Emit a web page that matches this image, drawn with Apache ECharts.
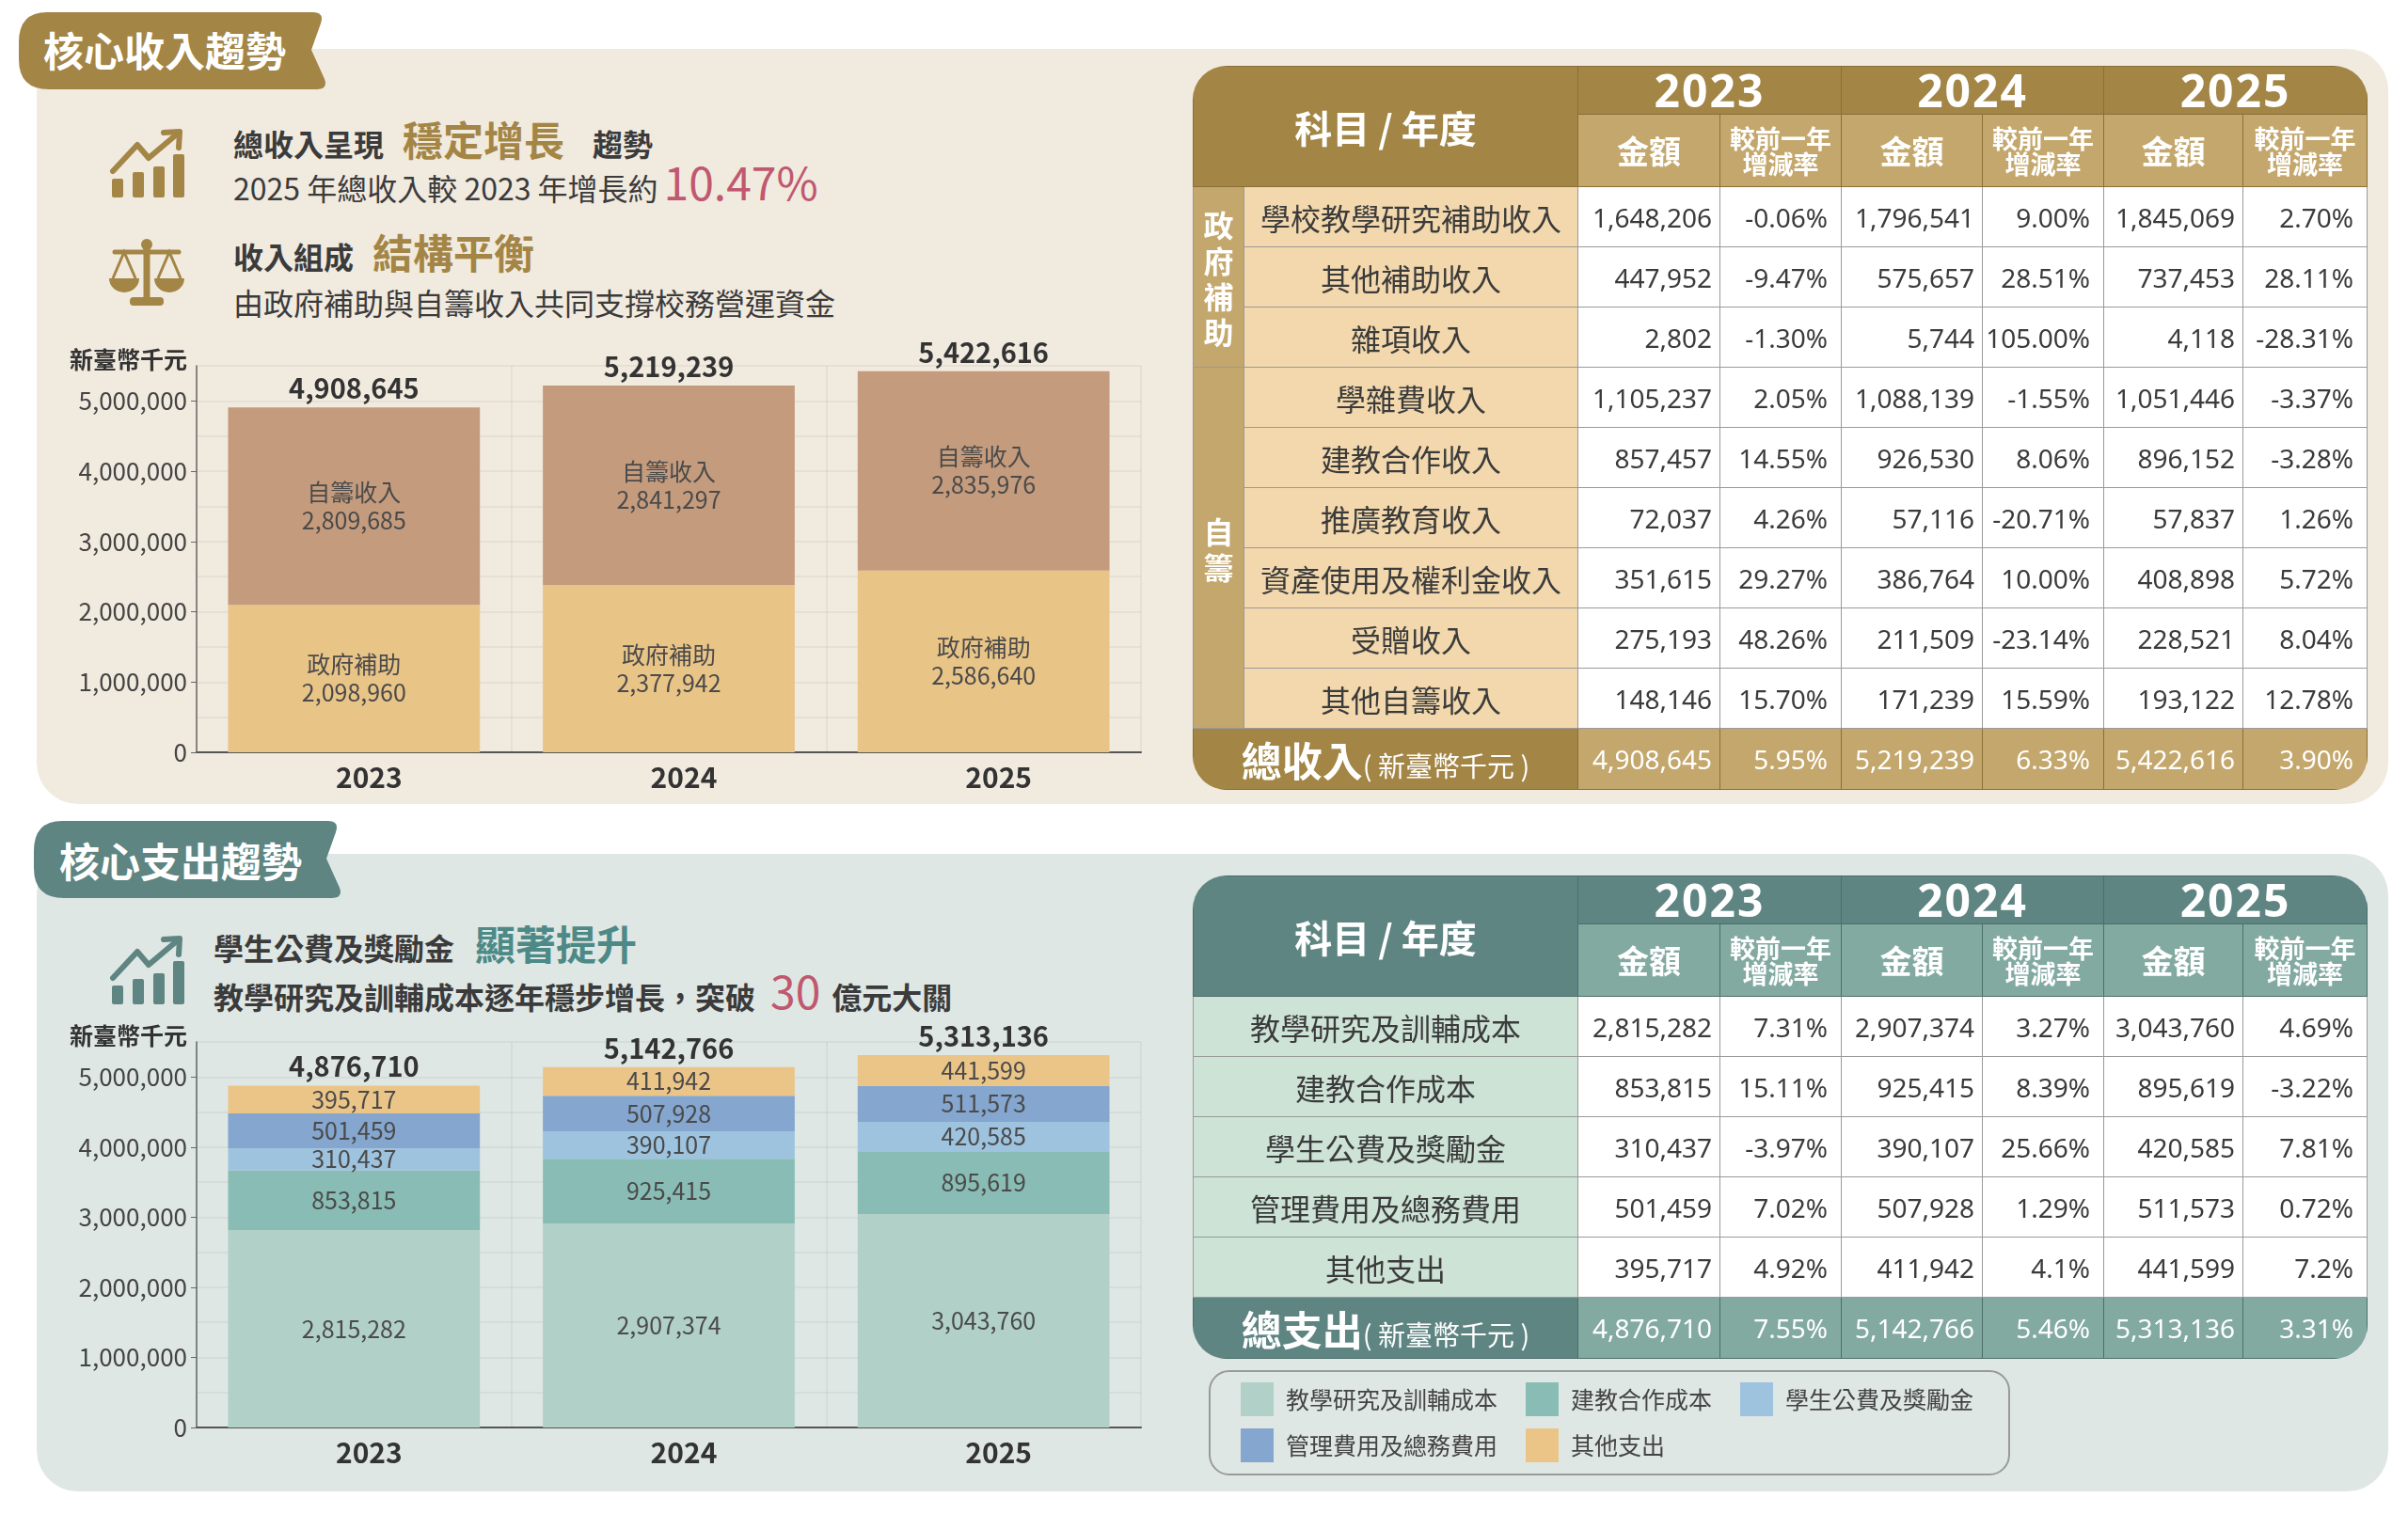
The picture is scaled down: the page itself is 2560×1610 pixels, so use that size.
<!DOCTYPE html>
<html lang="zh-Hant">
<head>
<meta charset="utf-8">
<title>核心收入與支出趨勢</title>
<script src="https://cdn.jsdelivr.net/npm/echarts@6.0.0/dist/echarts.min.js"></script>
<style>
body { margin:0; width:2560px; height:1610px; background:#fff; position:relative; overflow:hidden;
       font-family:"Noto Sans CJK TC", "Noto Sans", sans-serif; color:#3b3b3b; }
.abs { position:absolute; }
.row { position:absolute; display:flex; align-items:baseline; white-space:nowrap; line-height:1; }
.b { font-weight:bold; }
.tab { position:absolute; color:#fff; font-weight:bold; font-size:43px; line-height:1; }
#chart { position:absolute; left:0; top:0; width:2560px; height:1610px; z-index:2; }
.twrap { position:absolute; left:1268px; border-radius:36px; overflow:hidden; z-index:3; }
.tbl { border-collapse:collapse; table-layout:fixed; width:1248px; }
.tbl th, .tbl td { padding:0; line-height:1; }
.tbl th { color:#fff; font-weight:bold; }
.tbl .yr { font-family:"Noto Sans", sans-serif; font-size:48px; letter-spacing:2px; }
.tbl .corner { font-size:40px; }
.tbl .amt { font-size:34px; }
.tbl .rh { font-size:27px; line-height:27px; }
.tbl td.num { text-align:right; padding-right:8px; background:#fff; border:1.5px solid #9a9a9a;
              font-family:"Noto Sans", sans-serif; font-size:28px; color:#3b3b3b; }
.tbl td.rt { padding-right:14px; }
.tbl td.lab { text-align:center; font-size:32px; border:1.5px solid #9a9a9a; color:#3b3b3b; }
.tbl td.grp { text-align:center; color:#fff; font-weight:bold; font-size:32px; line-height:38px; }
.tbl tr.h1 { height:51px; }
.tbl tr.h2 { height:77px; }
.tbl tr.d { height:64px; }
.tbl tr.f { height:65px; }
.tbl tr.f td { color:#fff; font-family:"Noto Sans", sans-serif; font-size:28px; text-align:right; padding-right:8px; }
.tbl tr.f td.rt { padding-right:14px; }
.tbl tr.f td.ft { font-family:"Noto Sans CJK TC", sans-serif; text-align:center; font-weight:bold; font-size:43px; padding:0; }
.tbl tr.f td.ft small { font-size:29px; font-weight:normal; }
.inc th { background:#A38545; border:1px solid #8a6f38; }
.inc tr.h2 th { background:#C4A76C; }
.inc td.lab { background:#F2D8AC; }
.inc td.grp { background:#C4A76C; border:1px solid #9a9a9a; }
.inc tr.f td { background:#C4A76C; border:1px solid #8a6f38; }
.inc tr.f td.ft { background:#A38545; }
.exp th { background:#5E8582; border:1px solid #4d6e6b; }
.exp tr.h2 th { background:#82AAA1; }
.exp td.lab { background:#CDE3D6; }
.exp tr.f td { background:#82AAA1; border:1px solid #4d6e6b; }
.exp tr.f td.ft { background:#5E8582; }
#legendBox { position:absolute; left:1285px; top:1457px; width:848px; height:108px;
             border:2px solid #9a9a9a; border-radius:22px; z-index:1; }
</style>
</head>
<body>

<svg class="abs" style="left:0;top:0;z-index:0" width="2560" height="1610">
  <rect x="39" y="52" width="2500" height="803" rx="44" fill="#F1EADF"/>
  <rect x="39" y="908" width="2500" height="678" rx="44" fill="#DFE7E4"/>
  <path d="M50,13 H333 Q345,13 341,25 L331,53 L345,84 Q349,95 337,95 H52 Q20,95 20,63 V45 Q20,13 50,13 Z" fill="#A38545"/>
  <path d="M66,873 H349 Q361,873 357,885 L347,913 L361,944 Q365,955 353,955 H68 Q36,955 36,923 V905 Q36,873 66,873 Z" fill="#5E8582"/>
</svg>

<div class="tab" style="left:46px;top:31px;z-index:1">核心收入趨勢</div>
<div class="tab" style="left:63px;top:893px;z-index:1">核心支出趨勢</div>

<!-- income icons -->
<svg class="abs" style="left:114px;top:136px" width="84" height="78" viewBox="0 0 84 78">
  <g fill="#A38545">
    <rect x="5" y="54" width="12" height="20" rx="2"/>
    <rect x="27" y="47" width="12" height="27" rx="2"/>
    <rect x="49" y="41" width="12" height="33" rx="2"/>
    <rect x="70" y="28" width="12" height="46" rx="2"/>
  </g>
  <polyline points="6,46 32,18 44,32 76,5" fill="none" stroke="#A38545" stroke-width="6" stroke-linejoin="round" stroke-linecap="round"/>
  <polyline points="60,5 77,4 76,21" fill="none" stroke="#A38545" stroke-width="6" stroke-linejoin="round" stroke-linecap="round"/>
</svg>
<svg class="abs" style="left:114px;top:252px" width="84" height="78" viewBox="0 0 84 78">
  <g fill="#A38545" stroke="#A38545">
    <circle cx="42" cy="8" r="6" stroke="none"/>
    <line x1="8" y1="16" x2="76" y2="16" stroke-width="5" stroke-linecap="round"/>
    <line x1="42" y1="10" x2="42" y2="66" stroke-width="7"/>
    <polyline points="6,44 18,16 30,44" fill="none" stroke-width="3"/>
    <polyline points="54,44 66,16 78,44" fill="none" stroke-width="3"/>
    <path d="M2,44 H34 A16,15 0 0 1 2,44 Z" stroke="none"/>
    <path d="M50,44 H82 A16,15 0 0 1 50,44 Z" stroke="none"/>
    <rect x="24" y="64" width="36" height="9" rx="4" stroke="none"/>
  </g>
</svg>
<!-- expense icon -->
<svg class="abs" style="left:114px;top:994px" width="84" height="78" viewBox="0 0 84 78">
  <g fill="#5E8582">
    <rect x="5" y="54" width="12" height="20" rx="2"/>
    <rect x="27" y="47" width="12" height="27" rx="2"/>
    <rect x="49" y="41" width="12" height="33" rx="2"/>
    <rect x="70" y="28" width="12" height="46" rx="2"/>
  </g>
  <polyline points="6,46 32,18 44,32 76,5" fill="none" stroke="#5E8582" stroke-width="6" stroke-linejoin="round" stroke-linecap="round"/>
  <polyline points="60,5 77,4 76,21" fill="none" stroke="#5E8582" stroke-width="6" stroke-linejoin="round" stroke-linecap="round"/>
</svg>

<!-- income headline texts -->
<div class="row b" style="left:248px;top:126px;font-size:32px">
  <span>總收入呈現</span>
  <span style="font-size:43px;color:#A38545;margin:0 30px 0 20px">穩定增長</span>
  <span>趨勢</span>
</div>
<div class="row" style="left:248px;top:168px;font-size:32px">
  <span>2025 年總收入較 2023 年增長約</span>
  <span style="font-size:48px;color:#C0586F;margin-left:6px">10.47%</span>
</div>
<div class="row b" style="left:248px;top:246px;font-size:32px">
  <span>收入組成</span>
  <span style="font-size:43px;color:#A38545;margin-left:20px">結構平衡</span>
</div>
<div class="row" style="left:248px;top:305px;font-size:32px">
  <span>由政府補助與自籌收入共同支撐校務營運資金</span>
</div>

<!-- expense headline texts -->
<div class="row b" style="left:227px;top:981px;font-size:32px">
  <span>學生公費及獎勵金</span>
  <span style="font-size:43px;color:#4D8A87;margin-left:22px">顯著提升</span>
</div>
<div class="row b" style="left:227px;top:1028px;font-size:32px">
  <span>教學研究及訓輔成本逐年穩步增長，突破</span>
  <span style="font-size:48px;color:#C0586F;font-weight:normal;margin:0 12px 0 16px">30</span>
  <span>億元大關</span>
</div>

<div id="legendBox"></div>
<div id="chart"></div>

<div class="twrap" id="incWrap" style="top:70px"></div>
<div class="twrap" id="expWrap" style="top:931px"></div>

<script>
// ---- chart data ----
var years = ['2023', '2024', '2025'];
var govIncome = [2098960, 2377942, 2586640];
var selfIncome = [2809685, 2841297, 2835976];

var teachCost = [2815282, 2907374, 3043760];
var coopCost = [853815, 925415, 895619];
var aidCost = [310437, 390107, 420585];
var adminCost = [501459, 507928, 511573];
var otherCost = [395717, 411942, 441599];
var costNames = ['教學研究及訓輔成本', '建教合作成本', '學生公費及獎勵金', '管理費用及總務費用', '其他支出'];
var costColors = ['#B1D0C7', '#88BCB4', '#9DC3DF', '#84A6CF', '#EBC588'];

// ---- table data ----
var incomeItems = ['學校教學研究補助收入', '其他補助收入', '雜項收入', '學雜費收入', '建教合作收入',
                   '推廣教育收入', '資產使用及權利金收入', '受贈收入', '其他自籌收入'];
var incomeGroups = [['政', '府', '補', '助'], ['自', '籌']];
var incomeGroupRows = [3, 6];
var incomeAmounts = [
    [1648206, 1796541, 1845069],
    [447952, 575657, 737453],
    [2802, 5744, 4118],
    [1105237, 1088139, 1051446],
    [857457, 926530, 896152],
    [72037, 57116, 57837],
    [351615, 386764, 408898],
    [275193, 211509, 228521],
    [148146, 171239, 193122]
];
var incomeRates = [
    ['-0.06%', '9.00%', '2.70%'],
    ['-9.47%', '28.51%', '28.11%'],
    ['-1.30%', '105.00%', '-28.31%'],
    ['2.05%', '-1.55%', '-3.37%'],
    ['14.55%', '8.06%', '-3.28%'],
    ['4.26%', '-20.71%', '1.26%'],
    ['29.27%', '10.00%', '5.72%'],
    ['48.26%', '-23.14%', '8.04%'],
    ['15.70%', '15.59%', '12.78%']
];
var incomeTotalRates = ['5.95%', '6.33%', '3.90%'];
var costRates = [
    ['7.31%', '3.27%', '4.69%'],
    ['15.11%', '8.39%', '-3.22%'],
    ['-3.97%', '25.66%', '7.81%'],
    ['7.02%', '1.29%', '0.72%'],
    ['4.92%', '4.1%', '7.2%']
];
var costTotalRates = ['7.55%', '5.46%', '3.31%'];

function fmt(v) { return Number(v).toLocaleString('en-US'); }

var costSeriesData = [teachCost, coopCost, aidCost, adminCost, otherCost];
var incomeTotal = years.map(function (y, i) { return govIncome[i] + selfIncome[i]; });
var costTotal = years.map(function (y, i) {
    return costSeriesData.reduce(function (s, arr) { return s + arr[i]; }, 0);
});

// ---- tables ----
function headRows() {
    var h = '<colgroup><col style="width:54px"><col style="width:355px">' +
            '<col style="width:151px"><col style="width:129px"><col style="width:150px">' +
            '<col style="width:129px"><col style="width:148px"><col style="width:132px"></colgroup>';
    h += '<tr class="h1"><th colspan="2" rowspan="2" class="corner">科目 / 年度</th>';
    years.forEach(function (y) { h += '<th colspan="2" class="yr">' + y + '</th>'; });
    h += '</tr><tr class="h2">';
    years.forEach(function () { h += '<th class="amt">金額</th><th class="rh">較前一年<br>增減率</th>'; });
    return h + '</tr>';
}
function valueCells(amounts, rates) {
    var h = '';
    for (var i = 0; i < years.length; i++) {
        h += '<td class="num">' + fmt(amounts[i]) + '</td><td class="num rt">' + rates[i] + '</td>';
    }
    return h;
}
function footRow(title, totals, rates) {
    var h = '<tr class="f"><td colspan="2" class="ft">' + title + '<small>( 新臺幣千元 )</small></td>';
    for (var i = 0; i < years.length; i++) {
        h += '<td>' + fmt(totals[i]) + '</td><td class="rt">' + rates[i] + '</td>';
    }
    return h + '</tr>';
}

var inc = '<table class="tbl inc">' + headRows();
incomeItems.forEach(function (name, r) {
    inc += '<tr class="d">';
    incomeGroupRows.forEach(function (n, g) {
        var start = incomeGroupRows.slice(0, g).reduce(function (a, b) { return a + b; }, 0);
        if (r === start) inc += '<td class="grp" rowspan="' + n + '">' + incomeGroups[g].join('<br>') + '</td>';
    });
    inc += '<td class="lab">' + name + '</td>' + valueCells(incomeAmounts[r], incomeRates[r]) + '</tr>';
});
inc += footRow('總收入', incomeTotal, incomeTotalRates) + '</table>';
document.getElementById('incWrap').innerHTML = inc;

var exp = '<table class="tbl exp">' + headRows();
costNames.forEach(function (name, r) {
    exp += '<tr class="d"><td class="lab" colspan="2">' + name + '</td>' +
           valueCells(costSeriesData[r], costRates[r]) + '</tr>';
});
exp += footRow('總支出', costTotal, costTotalRates) + '</table>';
document.getElementById('expWrap').innerHTML = exp;

// ---- chart ----
var chart = echarts.init(document.getElementById('chart'));

function xAxisFor(gi) {
    return {
        type: 'category', gridIndex: gi, data: years,
        axisLine: { lineStyle: { color: '#555', width: 2 } },
        axisTick: { show: false },
        axisLabel: { fontSize: 30, fontWeight: 'bold', color: '#333', margin: 12, padding: [0, 0, 0, 32] },
        splitLine: { show: true, lineStyle: { color: 'rgba(0,0,0,0.06)', width: 1.5 } }
    };
}
function yAxisFor(gi) {
    return {
        type: 'value', gridIndex: gi, min: 0, max: 5500000, interval: 1000000,
        name: '新臺幣千元', nameLocation: 'end', nameGap: 7,
        nameTextStyle: { fontSize: 25, fontWeight: 'bold', color: '#333', align: 'right',
                         verticalAlign: 'middle', padding: [0, 10, 0, 0] },
        axisLine: { show: true, lineStyle: { color: '#666', width: 1.5 } },
        axisTick: { show: true, length: 6, lineStyle: { color: '#666' } },
        axisLabel: { formatter: fmt, showMaxLabel: false, fontSize: 26, color: '#444', margin: 10 },
        splitLine: { lineStyle: { color: 'rgba(0,0,0,0.06)', width: 1.5 } },
        minorTick: { show: false, splitNumber: 2 },
        minorSplitLine: { show: true, lineStyle: { color: 'rgba(0,0,0,0.06)', width: 1.5 } }
    };
}
function totalSeries(gi, data) {
    return {
        name: gi === 0 ? '總收入' : '總支出', type: 'line', xAxisIndex: gi, yAxisIndex: gi,
        data: data, symbol: 'circle', symbolSize: 1, silent: true, z: 10,
        itemStyle: { color: 'transparent' }, lineStyle: { opacity: 0 },
        label: { show: true, position: 'top', distance: 5, formatter: function (p) { return fmt(p.value); },
                 fontSize: 29, fontWeight: 'bold', color: '#333' }
    };
}

var series = [
    {
        name: '政府補助', type: 'bar', stack: 'income', xAxisIndex: 0, yAxisIndex: 0,
        barWidth: '80%', data: govIncome, itemStyle: { color: '#E9C487' },
        label: { show: true, position: 'inside', fontSize: 25, lineHeight: 30, color: '#4a4a4a',
                 formatter: function (p) { return p.seriesName + '\n' + fmt(p.value); } }
    },
    {
        name: '自籌收入', type: 'bar', stack: 'income', xAxisIndex: 0, yAxisIndex: 0,
        barWidth: '80%', data: selfIncome, itemStyle: { color: '#C49B7D' },
        label: { show: true, position: 'inside', fontSize: 25, lineHeight: 30, color: '#4a4a4a',
                 formatter: function (p) { return p.seriesName + '\n' + fmt(p.value); } }
    },
    totalSeries(0, incomeTotal)
];
costNames.forEach(function (name, k) {
    series.push({
        name: name, type: 'bar', stack: 'cost', xAxisIndex: 1, yAxisIndex: 1,
        barWidth: '80%', data: costSeriesData[k], itemStyle: { color: costColors[k] },
        label: { show: true, position: 'inside', fontSize: 25, color: '#4a4a4a',
                 formatter: function (p) { return fmt(p.value); } }
    });
});
series.push(totalSeries(1, costTotal));

var legendBase = {
    icon: 'rect', itemWidth: 35, itemHeight: 36, itemGap: 30, selectedMode: false,
    textStyle: { fontSize: 25, color: '#444', padding: [0, 0, 0, 8] }
};

chart.setOption({
    animation: false,
    textStyle: { fontFamily: '"Noto Sans CJK TC", "Noto Sans", sans-serif' },
    grid: [
        { left: 209, top: 389, width: 1004, height: 411 },
        { left: 209, top: 1108, width: 1004, height: 410 }
    ],
    xAxis: [xAxisFor(0), xAxisFor(1)],
    yAxis: [yAxisFor(0), yAxisFor(1)],
    legend: [
        Object.assign({ data: costNames.slice(0, 3), left: 1314, top: 1465 }, legendBase),
        Object.assign({ data: costNames.slice(3), left: 1314, top: 1514 }, legendBase)
    ],
    series: series
});
</script>
</body>
</html>
